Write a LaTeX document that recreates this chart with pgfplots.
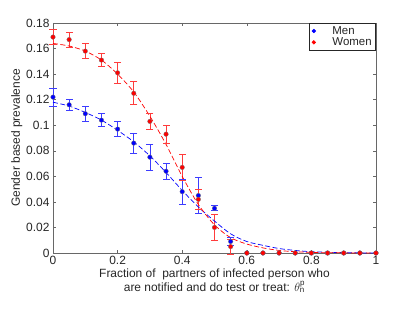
\documentclass[border=0pt]{standalone}
\usepackage{pgfplots}
\pgfplotsset{compat=1.18}
\usepackage{fontspec}
\setmainfont{Liberation Sans}
\definecolor{axgray}{RGB}{38,38,38}
\definecolor{mred}{RGB}{255,0,0}
\definecolor{mblue}{RGB}{0,0,255}
\definecolor{ebblue}{RGB}{60,60,255}
\definecolor{ebred}{RGB}{255,60,60}
\pgfplotstableread{
x y
0 0.122
0.05 0.116
0.1 0.109
0.15 0.104
0.2 0.097
0.25 0.086
0.3 0.075
0.35 0.064
0.4 0.048
0.45 0.045
0.5 0.035
0.55 0.009
0.6 0
0.65 0
0.7 0
0.75 0
0.8 0
0.85 0
0.9 0
0.95 0
1 0
}\men
\pgfplotstableread{
x y
0 0.169
0.05 0.167
0.1 0.158
0.15 0.151
0.2 0.141
0.25 0.125
0.3 0.103
0.35 0.093
0.4 0.067
0.45 0.042
0.5 0.020
0.55 0.005
0.6 0
0.65 0
0.7 0
0.75 0
0.8 0
0.85 0
0.9 0
0.95 0
1 0
}\women
\begin{document}
\begin{tikzpicture}
\begin{axis}[
  scale only axis,
  width=323bp, height=230bp,
  xmin=0, xmax=1, ymin=0, ymax=0.18,
  xtick={0,0.2,0.4,0.6,0.8,1},
  ytick={0,0.02,0.04,0.06,0.08,0.1,0.12,0.14,0.16,0.18},
  xticklabels={0,0.2,0.4,0.6,0.8,1},
  yticklabels={0,0.02,0.04,0.06,0.08,0.1,0.12,0.14,0.16,0.18},
  /pgf/number format/assume math mode=true,
  tick align=inside,
  major tick length=3bp,
  axis line style={axgray!70, line width=0.5pt},
  tick style={axgray!70, line width=0.5pt},
  ticklabel style={font=\fontsize{12}{13}\selectfont, text=axgray},
  label style={font=\fontsize{12}{15}\selectfont, text=axgray},
  xlabel={\begin{tabular}{c}Fraction of\ \ partners of infected person who\\[-1pt] are notified and do test or treat: $\theta_{\mathrm{n}}^{\mathrm{p}}$\end{tabular}},
  ylabel={Gender based prevalence},
  xlabel style={yshift=5bp},
  ylabel style={yshift=-3bp},
  legend style={at={(1,1)}, anchor=north east, font=\fontsize{11.5}{12}\selectfont, text=axgray,
    draw=axgray, line width=0.6pt, inner xsep=2pt, inner ysep=1pt, row sep=-2pt, legend cell align=left},
  legend image code/.code={\node[draw=none, fill=none, inner sep=0pt, minimum width=0.55cm, minimum height=1pt] at (0.275cm,0) {}; \fill[#1] (0.25cm,0cm) circle (1.8bp);},
  unbounded coords=jump,
  clip=false,
]
% error bars: (x, y-e) to (x, y+e), caps as marks
\addplot[ebblue, line width=0.7pt, mark=-, mark size=3.5bp, mark options={draw=ebblue, line width=0.7pt}, forget plot] coordinates {
(0,0.115)(0,0.129)(0,nan)
(0.05,0.112)(0.05,0.120)(0.05,nan)
(0.1,0.103)(0.1,0.115)(0.1,nan)
(0.15,0.099)(0.15,0.109)(0.15,nan)
(0.2,0.091)(0.2,0.103)(0.2,nan)
(0.25,0.078)(0.25,0.094)(0.25,nan)
(0.3,0.065)(0.3,0.085)(0.3,nan)
(0.35,0.058)(0.35,0.070)(0.35,nan)
(0.4,0.038)(0.4,0.058)(0.4,nan)
(0.45,0.031)(0.45,0.059)(0.45,nan)
(0.5,0.033)(0.5,0.037)(0.5,nan)
(0.55,0.006)(0.55,0.012)
};
\addplot[ebred, line width=0.7pt, mark=-, mark size=3.5bp, mark options={draw=ebred, line width=0.7pt}, forget plot] coordinates {
(0,0.163)(0,0.175)(0,nan)
(0.05,0.161)(0.05,0.173)(0.05,nan)
(0.1,0.152)(0.1,0.164)(0.1,nan)
(0.15,0.146)(0.15,0.156)(0.15,nan)
(0.2,0.133)(0.2,0.149)(0.2,nan)
(0.25,0.116)(0.25,0.134)(0.25,nan)
(0.3,0.097)(0.3,0.109)(0.3,nan)
(0.35,0.086)(0.35,0.100)(0.35,nan)
(0.4,0.057)(0.4,0.077)(0.4,nan)
(0.45,0.034)(0.45,0.050)(0.45,nan)
(0.5,0.010)(0.5,0.030)(0.5,nan)
(0.55,-0.001)(0.55,0.011)
};
% fitted curves
\addplot[mblue, dash pattern=on 5pt off 2.5pt, line width=0.7pt, smooth, forget plot] coordinates {
(0,0.118)(0.05,0.115)(0.1,0.110)(0.15,0.104)(0.2,0.096)(0.25,0.087)(0.3,0.076)(0.35,0.063)(0.4,0.049)(0.45,0.036)(0.5,0.025)(0.55,0.015)(0.6,0.009)(0.65,0.006)(0.7,0.0035)(0.75,0.002)(0.8,0.001)(0.85,0.0006)(0.9,0.0003)(0.95,0.0001)(1,0)};
\addplot[mred, dash pattern=on 5pt off 2.5pt, line width=0.7pt, smooth, forget plot] coordinates {
(0,0.164)(0.05,0.162)(0.1,0.158)(0.15,0.151)(0.2,0.140)(0.25,0.126)(0.3,0.107)(0.35,0.085)(0.4,0.060)(0.45,0.038)(0.5,0.022)(0.55,0.012)(0.6,0.007)(0.65,0.004)(0.7,0.002)(0.75,0.001)(0.8,0.0005)(0.85,0.0002)(0.9,0.0001)(0.95,0)(1,0)};
% markers
\addplot[mblue, only marks, mark=*, mark size=2.3bp, mark options={fill=mblue, draw=black!55, line width=0.3pt}]
  table[x=x, y=y] {\men};
\addlegendentry{Men}
\addplot[mred, only marks, mark=*, mark size=2.3bp, mark options={fill=mred, draw=black!55, line width=0.3pt}]
  table[x=x, y=y] {\women};
\addlegendentry{Women}
\end{axis}
\path (-53bp,-59bp) rectangle (362bp,253bp);
\end{tikzpicture}
\end{document}
